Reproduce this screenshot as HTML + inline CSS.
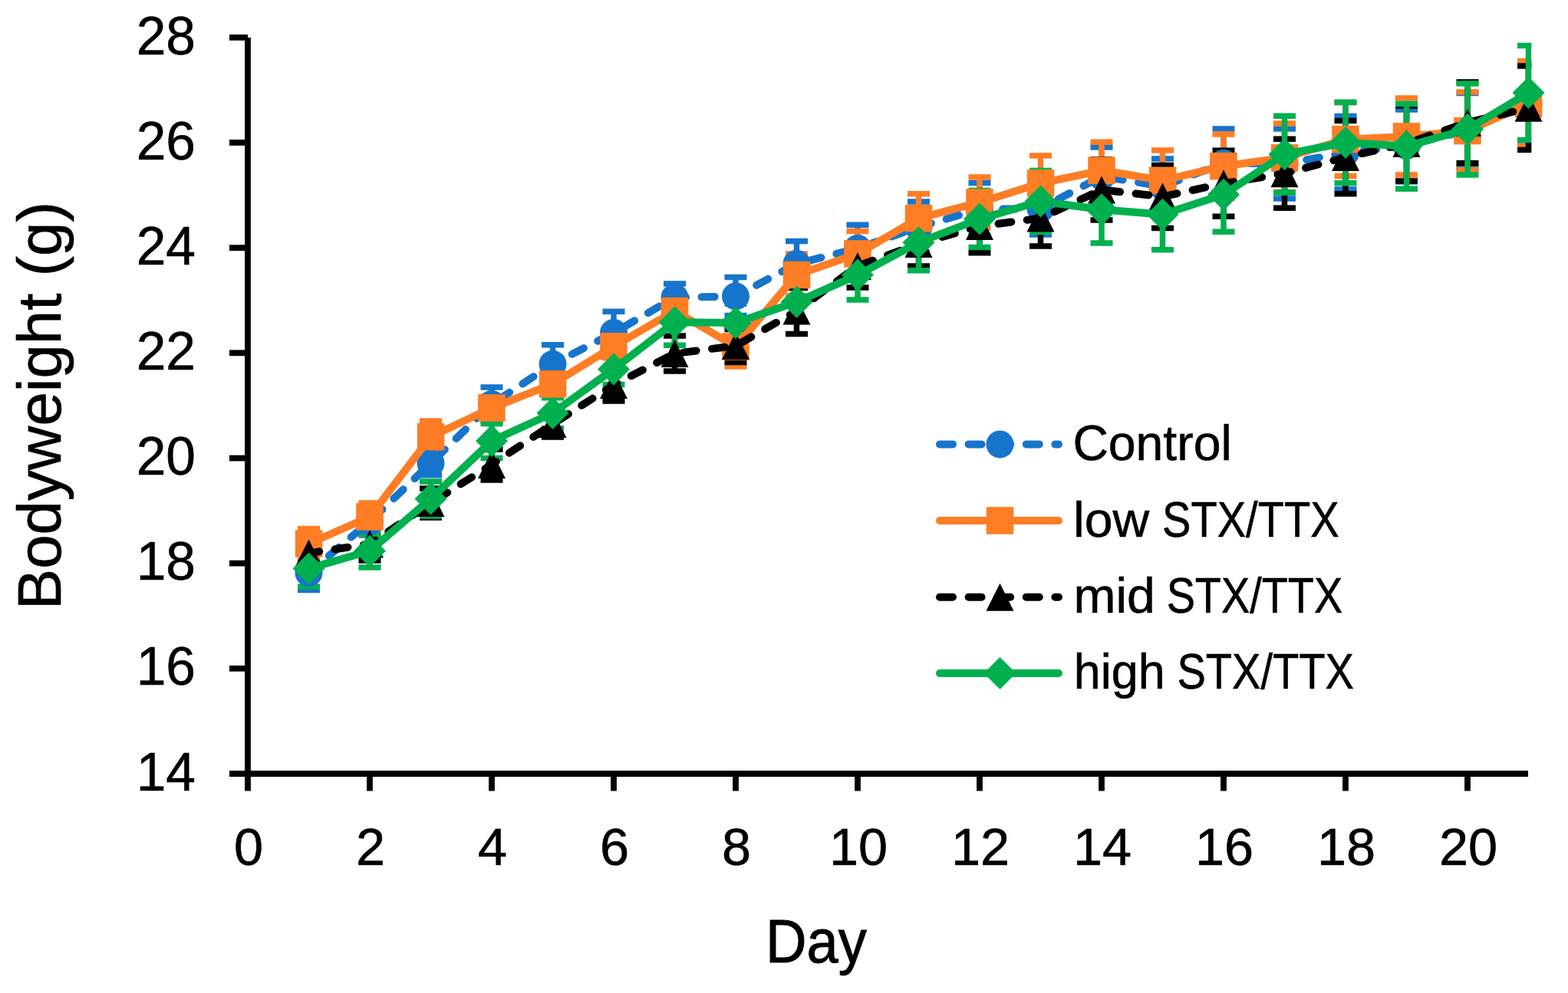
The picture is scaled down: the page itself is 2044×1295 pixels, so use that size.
<!DOCTYPE html><html><head><meta charset="utf-8"><title>Bodyweight chart</title><style>html,body{margin:0;padding:0;background:#fff;overflow:hidden}svg{display:block;filter:blur(0.6px)}</style></head><body><svg width="2044" height="1295" viewBox="0 0 2044 1295"><defs><clipPath id="pc"><rect x="0" y="0" width="1996.3" height="1295"/></clipPath></defs><rect width="2044" height="1295" fill="#fff"/><g stroke="#000" stroke-width="7.8" fill="none">
<path d="M323 49V1012"/>
<path d="M299 1009.0H1992"/>
<path d="M299 871.8H323"/>
<path d="M299 734.6H323"/>
<path d="M299 597.5H323"/>
<path d="M299 460.3H323"/>
<path d="M299 323.2H323"/>
<path d="M299 186.0H323"/>
<path d="M299 48.9H323"/>
<path d="M323.0 1009.0V1031.5"/>
<path d="M482.0 1009.0V1031.5"/>
<path d="M641.0 1009.0V1031.5"/>
<path d="M800.0 1009.0V1031.5"/>
<path d="M959.0 1009.0V1031.5"/>
<path d="M1118.0 1009.0V1031.5"/>
<path d="M1277.0 1009.0V1031.5"/>
<path d="M1436.0 1009.0V1031.5"/>
<path d="M1595.0 1009.0V1031.5"/>
<path d="M1754.0 1009.0V1031.5"/>
<path d="M1913.0 1009.0V1031.5"/>
</g>
<g font-family="Liberation Sans, sans-serif" font-size="69.5" fill="#000" text-anchor="end" stroke="#000" stroke-width="0.6">
<text x="255" y="1030.6">14</text>
<text x="255" y="893.4">16</text>
<text x="255" y="756.2">18</text>
<text x="255" y="619.1">20</text>
<text x="255" y="481.9">22</text>
<text x="255" y="344.8">24</text>
<text x="255" y="207.6">26</text>
<text x="255" y="70.5">28</text>
</g>
<g font-family="Liberation Sans, sans-serif" font-size="68.5" fill="#000" text-anchor="middle" stroke="#000" stroke-width="0.6">
<text x="324.0" y="1128">0</text>
<text x="483.0" y="1128">2</text>
<text x="642.0" y="1128">4</text>
<text x="801.0" y="1128">6</text>
<text x="960.0" y="1128">8</text>
<text x="1119.0" y="1128">10</text>
<text x="1278.0" y="1128">12</text>
<text x="1437.0" y="1128">14</text>
<text x="1596.0" y="1128">16</text>
<text x="1755.0" y="1128">18</text>
<text x="1914.0" y="1128">20</text>
</g>
<g stroke="#1774cc" stroke-width="7.5" fill="none" clip-path="url(#pc)"><path d="M402.5 724.5V769.5M388.0 724.5H417.0M388.0 769.5H417.0"/><path d="M482.0 662.0V698.0M467.5 662.0H496.5M467.5 698.0H496.5"/><path d="M561.5 588.3V619.7M547.0 588.3H576.0M547.0 619.7H576.0"/><path d="M641.0 505.0V549.0M626.5 505.0H655.5M626.5 549.0H655.5"/><path d="M720.5 449.8V499.8M706.0 449.8H735.0M706.0 499.8H735.0"/><path d="M800.0 406.3V461.7M785.5 406.3H814.5M785.5 461.7H814.5"/><path d="M879.5 370.0V406.0M865.0 370.0H894.0M865.0 406.0H894.0"/><path d="M959.0 361.4V411.4M944.5 361.4H973.5M944.5 411.4H973.5"/><path d="M1038.5 314.5V373.5M1024.0 314.5H1053.0M1024.0 373.5H1053.0"/><path d="M1118.0 293.3V354.7M1103.5 293.3H1132.5M1103.5 354.7H1132.5"/><path d="M1197.5 263.0V329.0M1183.0 263.0H1212.0M1183.0 329.0H1212.0"/><path d="M1277.0 238.4V307.6M1262.5 238.4H1291.5M1262.5 307.6H1291.5"/><path d="M1356.5 238.0V306.0M1342.0 238.0H1371.0M1342.0 306.0H1371.0"/><path d="M1436.0 192.0V268.0M1421.5 192.0H1450.5M1421.5 268.0H1450.5"/><path d="M1515.5 207.0V279.0M1501.0 207.0H1530.0M1501.0 279.0H1530.0"/><path d="M1595.0 168.0V257.4M1580.5 168.0H1609.5M1580.5 257.4H1609.5"/><path d="M1674.5 168.0V259.0M1660.0 168.0H1689.0M1660.0 259.0H1689.0"/><path d="M1754.0 151.5V247.1M1739.5 151.5H1768.5M1739.5 247.1H1768.5"/><path d="M1833.5 143.0V237.0M1819.0 143.0H1848.0M1819.0 237.0H1848.0"/><path d="M1913.0 121.5V218.5M1898.5 121.5H1927.5M1898.5 218.5H1927.5"/><path d="M1992.5 82.0V190.0M1978.0 82.0H2007.0M1978.0 190.0H2007.0"/></g>
<g stroke="#fe7d25" stroke-width="7.5" fill="none" clip-path="url(#pc)"><path d="M402.5 689.5V728.5M388.0 689.5H417.0M388.0 728.5H417.0"/><path d="M482.0 656.0V692.0M467.5 656.0H496.5M467.5 692.0H496.5"/><path d="M561.5 549.0V590.0M547.0 549.0H576.0M547.0 590.0H576.0"/><path d="M641.0 517.0V547.0M626.5 517.0H655.5M626.5 547.0H655.5"/><path d="M720.5 483.8V517.8M706.0 483.8H735.0M706.0 517.8H735.0"/><path d="M800.0 436.7V466.7M785.5 436.7H814.5M785.5 466.7H814.5"/><path d="M879.5 387.5V423.5M865.0 387.5H894.0M865.0 423.5H894.0"/><path d="M959.0 426.0V478.0M944.5 426.0H973.5M944.5 478.0H973.5"/><path d="M1038.5 331.0V386.0M1024.0 331.0H1053.0M1024.0 386.0H1053.0"/><path d="M1118.0 301.5V360.5M1103.5 301.5H1132.5M1103.5 360.5H1132.5"/><path d="M1197.5 252.7V316.7M1183.0 252.7H1212.0M1183.0 316.7H1212.0"/><path d="M1277.0 231.0V297.0M1262.5 231.0H1291.5M1262.5 297.0H1291.5"/><path d="M1356.5 203.0V275.0M1342.0 203.0H1371.0M1342.0 275.0H1371.0"/><path d="M1436.0 185.3V259.3M1421.5 185.3H1450.5M1421.5 259.3H1450.5"/><path d="M1515.5 196.0V274.6M1501.0 196.0H1530.0M1501.0 274.6H1530.0"/><path d="M1595.0 175.0V258.4M1580.5 175.0H1609.5M1580.5 258.4H1609.5"/><path d="M1674.5 161.0V250.6M1660.0 161.0H1689.0M1660.0 250.6H1689.0"/><path d="M1754.0 133.7V229.7M1739.5 133.7H1768.5M1739.5 229.7H1768.5"/><path d="M1833.5 128.0V228.0M1819.0 128.0H1848.0M1819.0 228.0H1848.0"/><path d="M1913.0 120.0V221.4M1898.5 120.0H1927.5M1898.5 221.4H1927.5"/><path d="M1992.5 79.8V190.8M1978.0 79.8H2007.0M1978.0 190.8H2007.0"/></g>
<g stroke="#000000" stroke-width="7.5" fill="none" clip-path="url(#pc)"><path d="M402.5 709.4V733.4M388.0 709.4H417.0M388.0 733.4H417.0"/><path d="M482.0 688.0V731.0M467.5 688.0H496.5M467.5 731.0H496.5"/><path d="M561.5 637.0V675.0M547.0 637.0H576.0M547.0 675.0H576.0"/><path d="M641.0 586.0V626.0M626.5 586.0H655.5M626.5 626.0H655.5"/><path d="M720.5 536.0V570.0M706.0 536.0H735.0M706.0 570.0H735.0"/><path d="M800.0 481.0V523.0M785.5 481.0H814.5M785.5 523.0H814.5"/><path d="M879.5 438.0V484.0M865.0 438.0H894.0M865.0 484.0H894.0"/><path d="M959.0 429.5V472.5M944.5 429.5H973.5M944.5 472.5H973.5"/><path d="M1038.5 375.5V435.5M1024.0 375.5H1053.0M1024.0 435.5H1053.0"/><path d="M1118.0 319.0V375.0M1103.5 319.0H1132.5M1103.5 375.0H1132.5"/><path d="M1197.5 289.0V347.0M1183.0 289.0H1212.0M1183.0 347.0H1212.0"/><path d="M1277.0 260.3V329.7M1262.5 260.3H1291.5M1262.5 329.7H1291.5"/><path d="M1356.5 248.0V321.0M1342.0 248.0H1371.0M1342.0 321.0H1371.0"/><path d="M1436.0 208.0V287.0M1421.5 208.0H1450.5M1421.5 287.0H1450.5"/><path d="M1515.5 215.5V297.5M1501.0 215.5H1530.0M1501.0 297.5H1530.0"/><path d="M1595.0 196.2V282.2M1580.5 196.2H1609.5M1580.5 282.2H1609.5"/><path d="M1674.5 181.2V271.2M1660.0 181.2H1689.0M1660.0 271.2H1689.0"/><path d="M1754.0 157.5V252.7M1739.5 157.5H1768.5M1739.5 252.7H1768.5"/><path d="M1833.5 138.0V236.0M1819.0 138.0H1848.0M1819.0 236.0H1848.0"/><path d="M1913.0 107.0V212.8M1898.5 107.0H1927.5M1898.5 212.8H1927.5"/><path d="M1992.5 86.0V195.5M1978.0 86.0H2007.0M1978.0 195.5H2007.0"/></g>
<g stroke="#00b04f" stroke-width="7.5" fill="none" clip-path="url(#pc)"><path d="M402.5 717.8V765.0M388.0 717.8H417.0M388.0 765.0H417.0"/><path d="M482.0 697.0V740.0M467.5 697.0H496.5M467.5 740.0H496.5"/><path d="M561.5 628.0V673.0M547.0 628.0H576.0M547.0 673.0H576.0"/><path d="M641.0 552.5V597.5M626.5 552.5H655.5M626.5 597.5H655.5"/><path d="M720.5 518.8V558.8M706.0 518.8H735.0M706.0 558.8H735.0"/><path d="M800.0 461.4V501.4M785.5 461.4H814.5M785.5 501.4H814.5"/><path d="M879.5 390.2V450.2M865.0 390.2H894.0M865.0 450.2H894.0"/><path d="M959.0 396.0V446.0M944.5 396.0H973.5M944.5 446.0H973.5"/><path d="M1038.5 368.8V418.8M1024.0 368.8H1053.0M1024.0 418.8H1053.0"/><path d="M1118.0 326.2V391.0M1103.5 326.2H1132.5M1103.5 391.0H1132.5"/><path d="M1197.5 279.6V352.8M1183.0 279.6H1212.0M1183.0 352.8H1212.0"/><path d="M1277.0 248.6V322.6M1262.5 248.6H1291.5M1262.5 322.6H1291.5"/><path d="M1356.5 222.5V302.5M1342.0 222.5H1371.0M1342.0 302.5H1371.0"/><path d="M1436.0 229.5V316.9M1421.5 229.5H1450.5M1421.5 316.9H1450.5"/><path d="M1515.5 233.7V325.7M1501.0 233.7H1530.0M1501.0 325.7H1530.0"/><path d="M1595.0 205.3V302.3M1580.5 205.3H1609.5M1580.5 302.3H1609.5"/><path d="M1674.5 151.2V251.2M1660.0 151.2H1689.0M1660.0 251.2H1689.0"/><path d="M1754.0 133.3V238.7M1739.5 133.3H1768.5M1739.5 238.7H1768.5"/><path d="M1833.5 135.4V246.2M1819.0 135.4H1848.0M1819.0 246.2H1848.0"/><path d="M1913.0 109.0V228.0M1898.5 109.0H1927.5M1898.5 228.0H1927.5"/><path d="M1992.5 59.4V182.6M1978.0 59.4H2007.0M1978.0 182.6H2007.0"/></g>
<polyline points="402.5,747.0 482.0,680.0 561.5,604.0 641.0,527.0 720.5,474.8 800.0,434.0 879.5,388.0 959.0,386.4 1038.5,344.0 1118.0,324.0 1197.5,296.0 1277.0,273.0 1356.5,272.0 1436.0,230.0 1515.5,243.0 1595.0,212.7 1674.5,213.5 1754.0,199.3 1833.5,190.0 1913.0,170.0 1992.5,136.0" fill="none" stroke="#1774cc" stroke-width="10" stroke-linecap="round" stroke-linejoin="round" stroke-dasharray="17 20.6" stroke-dashoffset="3.1"/>
<g fill="#1774cc"><circle cx="402.5" cy="747.0" r="18"/><circle cx="482.0" cy="680.0" r="18"/><circle cx="561.5" cy="604.0" r="18"/><circle cx="641.0" cy="527.0" r="18"/><circle cx="720.5" cy="474.8" r="18"/><circle cx="800.0" cy="434.0" r="18"/><circle cx="879.5" cy="388.0" r="18"/><circle cx="959.0" cy="386.4" r="18"/><circle cx="1038.5" cy="344.0" r="18"/><circle cx="1118.0" cy="324.0" r="18"/><circle cx="1197.5" cy="296.0" r="18"/><circle cx="1277.0" cy="273.0" r="18"/><circle cx="1356.5" cy="272.0" r="18"/><circle cx="1436.0" cy="230.0" r="18"/><circle cx="1515.5" cy="243.0" r="18"/><circle cx="1595.0" cy="212.7" r="18"/><circle cx="1674.5" cy="213.5" r="18"/><circle cx="1754.0" cy="199.3" r="18"/><circle cx="1833.5" cy="190.0" r="18"/><circle cx="1913.0" cy="170.0" r="18"/><circle cx="1992.5" cy="136.0" r="18"/></g>
<polyline points="402.5,709.0 482.0,674.0 561.5,569.5 641.0,532.0 720.5,500.8 800.0,451.7 879.5,405.5 959.0,452.0 1038.5,358.5 1118.0,331.0 1197.5,284.7 1277.0,264.0 1356.5,239.0 1436.0,222.3 1515.5,235.3 1595.0,216.7 1674.5,205.8 1754.0,181.7 1833.5,178.0 1913.0,170.7 1992.5,135.3" fill="none" stroke="#fe7d25" stroke-width="10" stroke-linecap="round" stroke-linejoin="round"/>
<g fill="#fe7d25"><rect x="384.8" y="691.2" width="35.5" height="35.5"/><rect x="464.2" y="656.2" width="35.5" height="35.5"/><rect x="543.8" y="551.8" width="35.5" height="35.5"/><rect x="623.2" y="514.2" width="35.5" height="35.5"/><rect x="702.8" y="483.1" width="35.5" height="35.5"/><rect x="782.2" y="433.9" width="35.5" height="35.5"/><rect x="861.8" y="387.8" width="35.5" height="35.5"/><rect x="941.2" y="434.2" width="35.5" height="35.5"/><rect x="1020.8" y="340.8" width="35.5" height="35.5"/><rect x="1100.2" y="313.2" width="35.5" height="35.5"/><rect x="1179.8" y="266.9" width="35.5" height="35.5"/><rect x="1259.2" y="246.2" width="35.5" height="35.5"/><rect x="1338.8" y="221.2" width="35.5" height="35.5"/><rect x="1418.2" y="204.6" width="35.5" height="35.5"/><rect x="1497.8" y="217.6" width="35.5" height="35.5"/><rect x="1577.2" y="198.9" width="35.5" height="35.5"/><rect x="1656.8" y="188.1" width="35.5" height="35.5"/><rect x="1736.2" y="163.9" width="35.5" height="35.5"/><rect x="1815.8" y="160.2" width="35.5" height="35.5"/><rect x="1895.2" y="152.9" width="35.5" height="35.5"/><rect x="1974.8" y="117.6" width="35.5" height="35.5"/></g>
<polyline points="402.5,721.4 482.0,709.5 561.5,656.0 641.0,606.0 720.5,553.0 800.0,502.0 879.5,461.0 959.0,451.0 1038.5,405.5 1118.0,347.0 1197.5,318.0 1277.0,295.0 1356.5,284.5 1436.0,247.5 1515.5,256.5 1595.0,239.2 1674.5,226.2 1754.0,205.1 1833.5,187.0 1913.0,159.9 1992.5,140.8" fill="none" stroke="#000000" stroke-width="10" stroke-linecap="round" stroke-linejoin="round" stroke-dasharray="17 20.6" stroke-dashoffset="3.1"/>
<g fill="#000000"><path d="M402.5 703.4L420.5 739.4L384.5 739.4Z"/><path d="M482.0 691.5L500.0 727.5L464.0 727.5Z"/><path d="M561.5 638.0L579.5 674.0L543.5 674.0Z"/><path d="M641.0 588.0L659.0 624.0L623.0 624.0Z"/><path d="M720.5 535.0L738.5 571.0L702.5 571.0Z"/><path d="M800.0 484.0L818.0 520.0L782.0 520.0Z"/><path d="M879.5 443.0L897.5 479.0L861.5 479.0Z"/><path d="M959.0 433.0L977.0 469.0L941.0 469.0Z"/><path d="M1038.5 387.5L1056.5 423.5L1020.5 423.5Z"/><path d="M1118.0 329.0L1136.0 365.0L1100.0 365.0Z"/><path d="M1197.5 300.0L1215.5 336.0L1179.5 336.0Z"/><path d="M1277.0 277.0L1295.0 313.0L1259.0 313.0Z"/><path d="M1356.5 266.5L1374.5 302.5L1338.5 302.5Z"/><path d="M1436.0 229.5L1454.0 265.5L1418.0 265.5Z"/><path d="M1515.5 238.5L1533.5 274.5L1497.5 274.5Z"/><path d="M1595.0 221.2L1613.0 257.2L1577.0 257.2Z"/><path d="M1674.5 208.2L1692.5 244.2L1656.5 244.2Z"/><path d="M1754.0 187.1L1772.0 223.1L1736.0 223.1Z"/><path d="M1833.5 169.0L1851.5 205.0L1815.5 205.0Z"/><path d="M1913.0 141.9L1931.0 177.9L1895.0 177.9Z"/><path d="M1992.5 122.8L2010.5 158.8L1974.5 158.8Z"/></g>
<polyline points="402.5,741.4 482.0,718.5 561.5,650.5 641.0,575.0 720.5,538.8 800.0,481.4 879.5,420.2 959.0,421.0 1038.5,393.8 1118.0,358.6 1197.5,316.2 1277.0,285.6 1356.5,262.5 1436.0,273.2 1515.5,279.7 1595.0,253.8 1674.5,201.2 1754.0,186.0 1833.5,190.8 1913.0,168.5 1992.5,121.0" fill="none" stroke="#00b04f" stroke-width="10" stroke-linecap="round" stroke-linejoin="round"/>
<g fill="#00b04f"><path d="M402.5 720.4L423.5 741.4L402.5 762.4L381.5 741.4Z"/><path d="M482.0 697.5L503.0 718.5L482.0 739.5L461.0 718.5Z"/><path d="M561.5 629.5L582.5 650.5L561.5 671.5L540.5 650.5Z"/><path d="M641.0 554.0L662.0 575.0L641.0 596.0L620.0 575.0Z"/><path d="M720.5 517.8L741.5 538.8L720.5 559.8L699.5 538.8Z"/><path d="M800.0 460.4L821.0 481.4L800.0 502.4L779.0 481.4Z"/><path d="M879.5 399.2L900.5 420.2L879.5 441.2L858.5 420.2Z"/><path d="M959.0 400.0L980.0 421.0L959.0 442.0L938.0 421.0Z"/><path d="M1038.5 372.8L1059.5 393.8L1038.5 414.8L1017.5 393.8Z"/><path d="M1118.0 337.6L1139.0 358.6L1118.0 379.6L1097.0 358.6Z"/><path d="M1197.5 295.2L1218.5 316.2L1197.5 337.2L1176.5 316.2Z"/><path d="M1277.0 264.6L1298.0 285.6L1277.0 306.6L1256.0 285.6Z"/><path d="M1356.5 241.5L1377.5 262.5L1356.5 283.5L1335.5 262.5Z"/><path d="M1436.0 252.2L1457.0 273.2L1436.0 294.2L1415.0 273.2Z"/><path d="M1515.5 258.7L1536.5 279.7L1515.5 300.7L1494.5 279.7Z"/><path d="M1595.0 232.8L1616.0 253.8L1595.0 274.8L1574.0 253.8Z"/><path d="M1674.5 180.2L1695.5 201.2L1674.5 222.2L1653.5 201.2Z"/><path d="M1754.0 165.0L1775.0 186.0L1754.0 207.0L1733.0 186.0Z"/><path d="M1833.5 169.8L1854.5 190.8L1833.5 211.8L1812.5 190.8Z"/><path d="M1913.0 147.5L1934.0 168.5L1913.0 189.5L1892.0 168.5Z"/><path d="M1992.5 100.0L2013.5 121.0L1992.5 142.0L1971.5 121.0Z"/></g>
<path d="M1225 579.4H1380" stroke="#1774cc" stroke-width="10" stroke-linecap="round" stroke-dasharray="17 20.6"/>
<g fill="#1774cc"><circle cx="1303.5" cy="579.4" r="18"/></g>
<path d="M1225 679H1380" stroke="#fe7d25" stroke-width="10" stroke-linecap="round"/>
<g fill="#fe7d25"><rect x="1285.8" y="661.2" width="35.5" height="35.5"/></g>
<path d="M1225 778.7H1380" stroke="#000000" stroke-width="10" stroke-linecap="round" stroke-dasharray="17 20.6"/>
<g fill="#000000"><path d="M1303.5 760.7L1321.5 796.7L1285.5 796.7Z"/></g>
<path d="M1225 878H1380" stroke="#00b04f" stroke-width="10" stroke-linecap="round"/>
<g fill="#00b04f"><path d="M1303.5 857.0L1324.5 878.0L1303.5 899.0L1282.5 878.0Z"/></g>
<text font-family="Liberation Sans, sans-serif" font-size="79" stroke="#000" stroke-width="0.7" transform="translate(79.2,795.0) rotate(-90)" textLength="532.0" lengthAdjust="spacingAndGlyphs">Bodyweight (g)</text>
<text font-family="Liberation Sans, sans-serif" font-size="79.5" stroke="#000" stroke-width="1.0" x="998.0" y="1255.1" textLength="131.8" lengthAdjust="spacingAndGlyphs">Day</text>
<text font-family="Liberation Sans, sans-serif" font-size="65" stroke="#000" stroke-width="0.6" x="1398.4" y="600.2" textLength="207.3" lengthAdjust="spacingAndGlyphs">Control</text>
<text font-family="Liberation Sans, sans-serif" font-size="65" stroke="#000" stroke-width="0.6" y="699.8"><tspan x="1399.00" textLength="99.23" lengthAdjust="spacingAndGlyphs">low</tspan> <tspan x="1515.03" textLength="230.60" lengthAdjust="spacingAndGlyphs">STX/TTX</tspan></text>
<text font-family="Liberation Sans, sans-serif" font-size="65" stroke="#000" stroke-width="0.6" y="799.0"><tspan x="1399.40" textLength="106.42" lengthAdjust="spacingAndGlyphs">mid</tspan> <tspan x="1520.64" textLength="229.58" lengthAdjust="spacingAndGlyphs">STX/TTX</tspan></text>
<text font-family="Liberation Sans, sans-serif" font-size="65" stroke="#000" stroke-width="0.6" y="898.4"><tspan x="1399.84" textLength="119.07" lengthAdjust="spacingAndGlyphs">high</tspan> <tspan x="1534.42" textLength="230.60" lengthAdjust="spacingAndGlyphs">STX/TTX</tspan></text></svg></body></html>
